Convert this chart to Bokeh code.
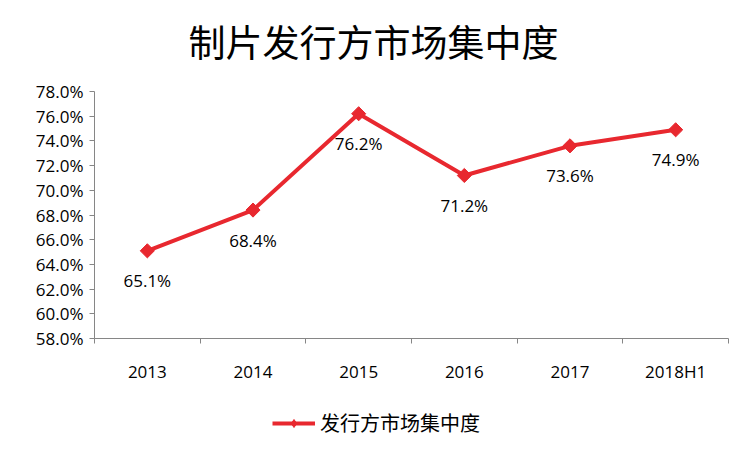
import numpy as np
from bokeh.plotting import figure
from bokeh.layouts import column
from bokeh.models import (ColumnDataSource, FixedTicker, NumeralTickFormatter,
                          Legend, LegendItem, Range1d, Label)
from bokeh.core.properties import value
from bokeh.embed import file_html
from bokeh.resources import INLINE

# ---- data ----
categories = ["2013", "2014", "2015", "2016", "2017", "2018H1"]
concentration = [0.651, 0.684, 0.762, 0.712, 0.736, 0.749]
series_name = "发行方市场集中度"
chart_title = "制片发行方市场集中度"
y_ticks = [0.58, 0.60, 0.62, 0.64, 0.66, 0.68, 0.70, 0.72, 0.74, 0.76, 0.78]

RED = "#E8282F"
AXIS = "#868686"
TICK_FONT = "Open Sans"
CJK_FONT = "Noto Sans CJK SC"

xs = [i + 0.5 for i in range(len(categories))]
labels = ["{:.1f}%".format(v * 100) for v in concentration]
src = ColumnDataSource(dict(x=xs, y=concentration, lab=labels))


def strip(height):
    f = figure(width=744, height=height, output_backend="svg",
               toolbar_location=None, x_range=Range1d(0, 634),
               y_range=Range1d(0, height), min_border=0,
               x_axis_location=None, y_axis_location=None)
    f.outline_line_color = None
    f.grid.grid_line_color = None
    f.border_fill_color = "white"
    return f


# title strip
tt = strip(70)
tt.add_layout(Label(x=279, y=30, text=chart_title, text_align="center",
                    text_baseline="middle", text_font=CJK_FONT,
                    text_font_size="37px", text_color="#000000"))

p = figure(width=744, height=325, output_backend="svg", toolbar_location=None,
           x_range=Range1d(0, len(categories)), y_range=Range1d(0.58, 0.78),
           min_border_left=94, min_border_right=16, min_border_top=21,
           min_border_bottom=57)
p.outline_line_color = None
p.grid.grid_line_color = None
p.background_fill_color = "white"
p.border_fill_color = "white"

# x axis
p.xaxis.ticker = FixedTicker(ticks=xs, minor_ticks=list(range(len(categories) + 1)))
p.xaxis.major_label_overrides = {x: c for x, c in zip(xs, categories)}
p.xaxis.major_tick_line_color = None
p.xaxis.minor_tick_line_color = AXIS
p.xaxis.minor_tick_out = 5
p.xaxis.minor_tick_in = 0
p.xaxis.axis_line_color = AXIS
p.xaxis.major_label_text_font = TICK_FONT
p.xaxis.major_label_text_font_size = "17px"
p.xaxis.major_label_text_color = "#000000"
p.xaxis.major_label_standoff = 15

# y axis
p.yaxis.ticker = FixedTicker(ticks=y_ticks, minor_ticks=[])
p.yaxis.formatter = NumeralTickFormatter(format="0.0%")
p.yaxis.axis_line_color = AXIS
p.yaxis.major_tick_line_color = AXIS
p.yaxis.major_tick_out = 5
p.yaxis.major_tick_in = 0
p.yaxis.minor_tick_line_color = None
p.yaxis.major_label_text_font = TICK_FONT
p.yaxis.major_label_text_font_size = "17px"
p.yaxis.major_label_text_color = "#000000"
p.yaxis.major_label_standoff = 6

# series
p.line("x", "y", source=src, line_color=RED, line_width=4)
p.scatter("x", "y", source=src, marker="square", angle=np.pi / 4,
          size=10, fill_color=RED, line_color=RED)
p.text("x", "y", text="lab", source=src, text_align="center",
       text_baseline="middle", y_offset=30, text_font=value(TICK_FONT),
       text_font_size="17px", text_color="#000000")

# legend strip below the chart (its ranges keep the series out of view;
# the renderers only supply the legend's sample glyphs)
lg = strip(54)
lg.x_range = Range1d(1000, 1634)
l_ln = lg.line("x", "y", source=src, line_color=RED, line_width=4)
l_mk = lg.scatter("x", "y", source=src, marker="diamond",
                  size=15, fill_color=RED, line_color=RED)
legend = Legend(items=[LegendItem(label=series_name, renderers=[l_ln, l_mk])],
                location=(178, 12), orientation="horizontal",
                border_line_color=None, background_fill_alpha=0,
                padding=0, margin=0, glyph_width=43, glyph_height=20,
                label_standoff=5, label_text_font=CJK_FONT,
                label_text_font_size="20px", label_text_color="#000000")
lg.add_layout(legend, "center")

layout = column(tt, p, lg, spacing=0)
open("out.html", "w").write(file_html(layout, INLINE))
